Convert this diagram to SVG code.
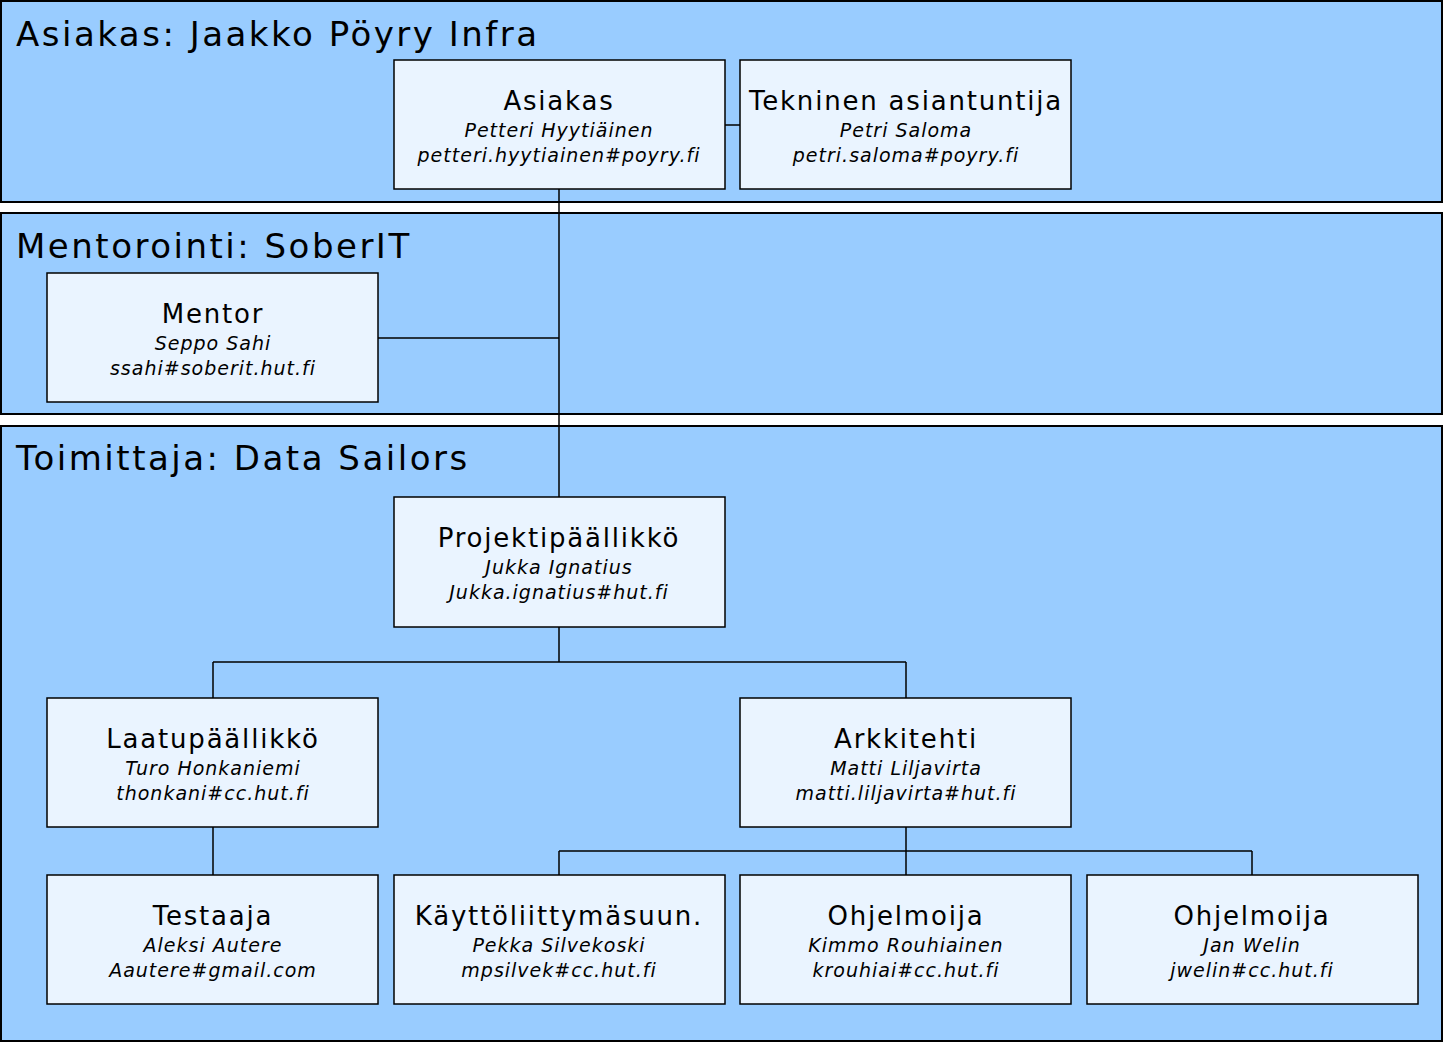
<svg xmlns="http://www.w3.org/2000/svg" width="1445" height="1043" viewBox="0 0 1445 1043">
<style>
.band{fill:#99ccff;stroke:#000;stroke-width:2}
.node rect{fill:#eaf4ff;stroke:#000;stroke-width:1.5}
.bt{font-family:"DejaVu Sans",sans-serif;font-size:34px;fill:#000;letter-spacing:2.5px}
.t{font-family:"DejaVu Sans",sans-serif;font-size:26px;text-anchor:middle;letter-spacing:1.8px}
.s{font-family:"DejaVu Sans",sans-serif;font-size:19px;font-style:italic;text-anchor:middle;letter-spacing:1px}
.c{stroke:#000;stroke-width:1.5;fill:none}
</style>
<rect width="1445" height="1043" fill="#fff"/>
<g id="bands">
<rect class="band" x="1" y="1" width="1441" height="201"/>
<rect class="band" x="1" y="213" width="1441" height="201"/>
<rect class="band" x="1" y="426" width="1441" height="615"/>
<text class="bt" x="16" y="46">Asiakas: Jaakko Pöyry Infra</text>
<text class="bt" x="16" y="258">Mentorointi: SoberIT</text>
<text class="bt" x="16" y="470">Toimittaja: Data Sailors</text>
</g>
<g id="connectors" class="c">
<path d="M725 125H740M559 189V497M378 338H559M559 627V662M213 662H906M213 662V698M906 662V698M213 827V875M906 827V875M559 851H1252M559 851V875M1252 851V875"/>
</g>
<g id="n-asiakas" class="node"><rect x="394" y="60" width="331" height="129"/><text class="t" x="559" y="110">Asiakas</text><text class="s" x="559" y="137">Petteri Hyytiäinen</text><text class="s" x="559" y="162">petteri.hyytiainen#poyry.fi</text></g>
<g id="n-tekninen" class="node"><rect x="740" y="60" width="331" height="129"/><text class="t" x="906" y="110">Tekninen asiantuntija</text><text class="s" x="906" y="137">Petri Saloma</text><text class="s" x="906" y="162">petri.saloma#poyry.fi</text></g>
<g id="n-mentor" class="node"><rect x="47" y="273" width="331" height="129"/><text class="t" x="213" y="323">Mentor</text><text class="s" x="213" y="350">Seppo Sahi</text><text class="s" x="213" y="375">ssahi#soberit.hut.fi</text></g>
<g id="n-pp" class="node"><rect x="394" y="497" width="331" height="130"/><text class="t" x="559" y="547">Projektipäällikkö</text><text class="s" x="559" y="574">Jukka Ignatius</text><text class="s" x="559" y="599">Jukka.ignatius#hut.fi</text></g>
<g id="n-laatu" class="node"><rect x="47" y="698" width="331" height="129"/><text class="t" x="213" y="748">Laatupäällikkö</text><text class="s" x="213" y="775">Turo Honkaniemi</text><text class="s" x="213" y="800">thonkani#cc.hut.fi</text></g>
<g id="n-arkki" class="node"><rect x="740" y="698" width="331" height="129"/><text class="t" x="906" y="748">Arkkitehti</text><text class="s" x="906" y="775">Matti Liljavirta</text><text class="s" x="906" y="800">matti.liljavirta#hut.fi</text></g>
<g id="n-testaaja" class="node"><rect x="47" y="875" width="331" height="129"/><text class="t" x="213" y="925">Testaaja</text><text class="s" x="213" y="952">Aleksi Autere</text><text class="s" x="213" y="977">Aautere#gmail.com</text></g>
<g id="n-kaytto" class="node"><rect x="394" y="875" width="331" height="129"/><text class="t" x="559" y="925">Käyttöliittymäsuun.</text><text class="s" x="559" y="952">Pekka Silvekoski</text><text class="s" x="559" y="977">mpsilvek#cc.hut.fi</text></g>
<g id="n-ohj1" class="node"><rect x="740" y="875" width="331" height="129"/><text class="t" x="906" y="925">Ohjelmoija</text><text class="s" x="906" y="952">Kimmo Rouhiainen</text><text class="s" x="906" y="977">krouhiai#cc.hut.fi</text></g>
<g id="n-ohj2" class="node"><rect x="1087" y="875" width="331" height="129"/><text class="t" x="1252" y="925">Ohjelmoija</text><text class="s" x="1252" y="952">Jan Welin</text><text class="s" x="1252" y="977">jwelin#cc.hut.fi</text></g>
</svg>
